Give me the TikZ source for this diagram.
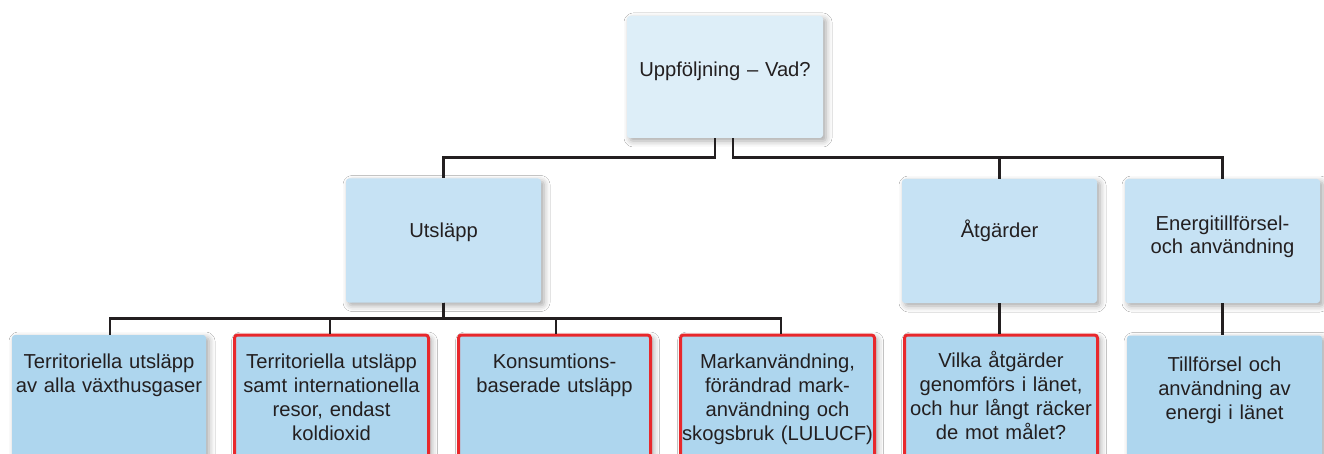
\documentclass[tikz,border=0pt]{standalone}
\usepackage{fontspec}
\setmainfont{Liberation Sans}
\usetikzlibrary{shadows.blur}
\definecolor{ctop}{HTML}{DDEEF8}
\definecolor{cmid}{HTML}{C6E2F4}
\definecolor{clow}{HTML}{AED6EE}
\definecolor{redb}{HTML}{E8282C}
\definecolor{ink}{HTML}{231F20}
\tikzset{
  box/.style={draw=none, rounded corners=3pt, inner sep=0pt,
    blur shadow={shadow xshift=3pt, shadow yshift=-3pt, shadow blur radius=6pt, shadow opacity=35}},
  topbox/.style={box, fill=ctop, minimum width=196pt, minimum height=122pt},
  midbox/.style={box, fill=cmid, minimum width=195pt, minimum height=124pt},
  lowbox/.style={box, fill=clow, minimum height=150pt},
  redframe/.style={draw=redb, line width=3pt},
  lbl/.style={anchor=base, text width=215pt, align=center, inner sep=0pt,
    text=ink, font=\fontsize{20.2}{24}\selectfont},
  conn/.style={draw=ink, line width=2.8pt},
}
\begin{document}
\begin{tikzpicture}[x=1pt,y=-1pt]
\clip (0,0) rectangle (1324,454);
\fill[white] (0,0) rectangle (1324,454);
% boxes
\node[topbox] (top) at (725,77) {};
\node[midbox] (uts) at (443.5,240.5) {};
\node[midbox] (atg) at (999.5,241) {};
\node[midbox] (ene) at (1222.5,241) {};
\node[lowbox, minimum width=194pt] (l1) at (109,410) {};
\node[lowbox, redframe, minimum width=194pt] (l2) at (331.5,410) {};
\node[lowbox, redframe, minimum width=192pt] (l3) at (554.5,410) {};
\node[lowbox, redframe, minimum width=194pt] (l4) at (777.5,410) {};
\node[lowbox, redframe, minimum width=193pt] (l5) at (1001,410) {};
\node[lowbox, minimum width=195pt] (l6) at (1224.5,410.5) {};
% connectors
\draw[conn] ([xshift=-10pt]top.south) -- ++(0,19) -| (uts.north);
\draw[conn] ([xshift=8pt]top.south) -- ++(0,19) -| (atg.north);
\draw[conn] ([xshift=8pt]top.south) -- ++(0,19) -| (ene.north);
\draw[conn] (uts.south) -- ++(0,16) -| ([xshift=1pt]l1.north);
\draw[conn] (uts.south) -- ++(0,16) -| ([xshift=-1.5pt]l2.north);
\draw[conn] (uts.south) -- ++(0,16) -| ([xshift=1.5pt]l3.north);
\draw[conn] (uts.south) -- ++(0,16) -| ([xshift=3.5pt]l4.north);
\draw[conn] (atg.south) -- (atg.south |- l5.north);
\draw[conn] (ene.south) -- (ene.south |- l6.north);
% texts
\node[lbl] (t0) at (725,77) {Uppföljning – Vad?};
\node[lbl] (t1) at (443.5,238) {Utsläpp};
\node[lbl] (t2) at (999.5,237) {Åtgärder};
\node[lbl, font=\fontsize{20.2}{23}\selectfont] (t3) at (1222.5,231) {Energitillförsel-\\och användning};
\node[lbl] (t4) at (109,368) {Territoriella utsläpp\\av alla växthusgaser};
\node[lbl] (t5) at (331.5,368) {Territoriella utsläpp\\samt internationella\\resor, endast\\koldioxid};
\node[lbl] (t6) at (554.5,368) {Konsumtions-\\baserade utsläpp};
\node[lbl] (t7) at (777.5,368) {Markanvändning,\\förändrad mark-\\användning och\\skogsbruk (LULUCF)};
\node[lbl] (t8) at (1001,367) {Vilka åtgärder\\genomförs i länet,\\och hur långt räcker\\de mot målet?};
\node[lbl] (t9) at (1224.5,371) {Tillförsel och\\användning av\\energi i länet};
\end{tikzpicture}
\end{document}
